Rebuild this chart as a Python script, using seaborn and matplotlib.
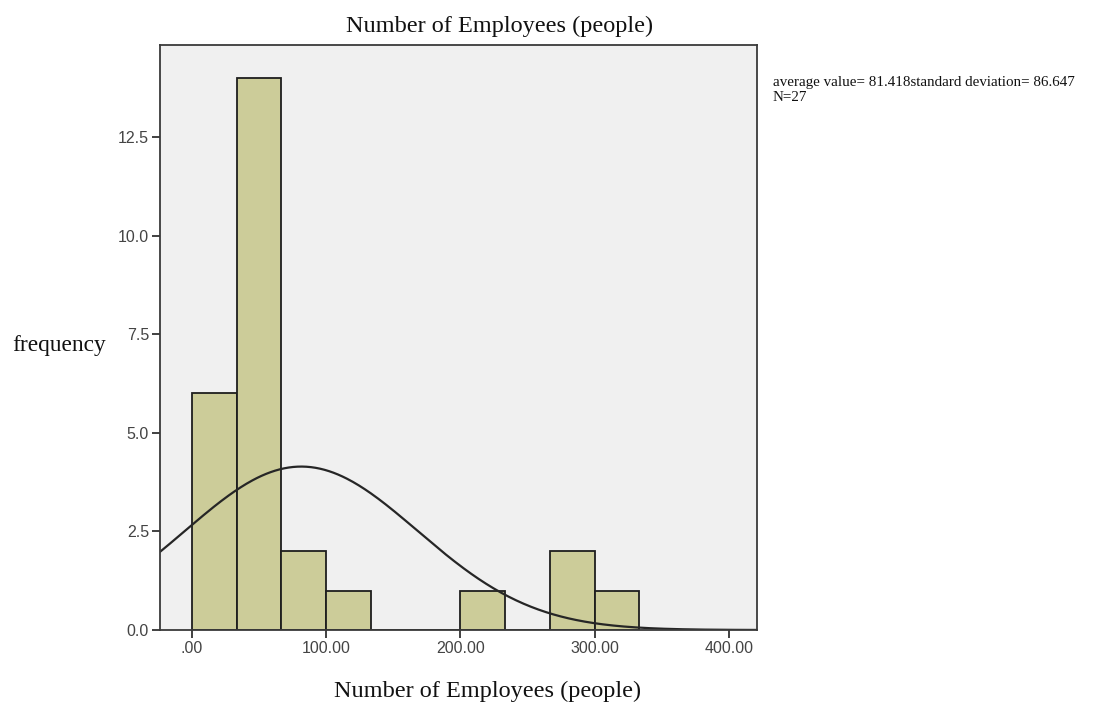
import numpy as np
import pandas as pd
import matplotlib
matplotlib.use("Agg")
import matplotlib.pyplot as plt
import seaborn as sns

# Histogram bins (people) and counts per bin
bin_edges = [0, 33.33, 66.67, 100, 133.33, 166.67, 200, 233.33, 266.67, 300, 333.33]
counts = [6, 14, 2, 1, 0, 0, 1, 0, 2, 1]

# Summary statistics shown in the legend text
mean_value = 81.418
std_value = 86.647
n_total = 27

x_ticks = [0, 100, 200, 300, 400]
x_tick_labels = [".00", "100.00", "200.00", "300.00", "400.00"]
y_ticks = [0, 2.5, 5.0, 7.5, 10.0, 12.5]
y_tick_labels = ["0.0", "2.5", "5.0", "7.5", "10.0", "12.5"]

sns.set_style("white")
plt.rcParams["font.family"] = ["Liberation Sans", "DejaVu Sans"]

fig = plt.figure(figsize=(10.93, 7.09), dpi=100)
ax = fig.add_axes([0.1464, 0.1114, 0.5462, 0.8251])
ax.set_facecolor("#f0f0f0")

centers = [(a + b) / 2 for a, b in zip(bin_edges[:-1], bin_edges[1:])]
df = pd.DataFrame({"employees": centers, "count": counts})
sns.histplot(data=df, x="employees", weights="count", bins=bin_edges,
             color="#cccc99", alpha=1.0, edgecolor="#1e1e1e", linewidth=1.3,
             ax=ax)

# Normal curve scaled to the histogram
bw = bin_edges[1] - bin_edges[0]
xs = np.linspace(-24, 421, 400)
ys = n_total * bw / (std_value * np.sqrt(2 * np.pi)) * np.exp(-0.5 * ((xs - mean_value) / std_value) ** 2)
sns.lineplot(x=xs, y=ys, color="#262626", linewidth=1.6, ax=ax)

ax.set_xlim(-23.8, 420.9)
ax.set_ylim(0, 14.83)
ax.set_xticks(x_ticks)
ax.set_xticklabels(x_tick_labels)
ax.set_yticks(y_ticks)
ax.set_yticklabels(y_tick_labels)
ax.tick_params(axis="both", which="both", direction="out", length=6, width=1.3,
               color="#333333", labelsize=11.5, labelcolor="#444444", pad=2,
               bottom=True, left=True)
for s in ax.spines.values():
    s.set_color("#3a3a3a")
    s.set_linewidth(1.3)

serif = ["Liberation Serif", "DejaVu Serif"]
ax.set_xlabel("")
ax.set_ylabel("")
fig.text(0.4575, 0.963, "Number of Employees (people)", family=serif,
         fontsize=17.5, ha="center", va="center", color="#111111")
fig.text(0.4465, 0.025, "Number of Employees (people)", family=serif,
         fontsize=17.5, ha="center", va="center", color="#111111")
fig.text(0.011, 0.513, "frequency", family=serif, fontsize=16.8,
         ha="left", va="center", color="#111111")
fig.text(0.707, 0.893,
         f"average value= {mean_value:.3f}standard deviation= {std_value:.3f}\nN={n_total}",
         family=serif, fontsize=10.8, ha="left", va="top", color="#111111",
         linespacing=1.2)

fig.savefig("out.png", dpi=100, facecolor="white")
